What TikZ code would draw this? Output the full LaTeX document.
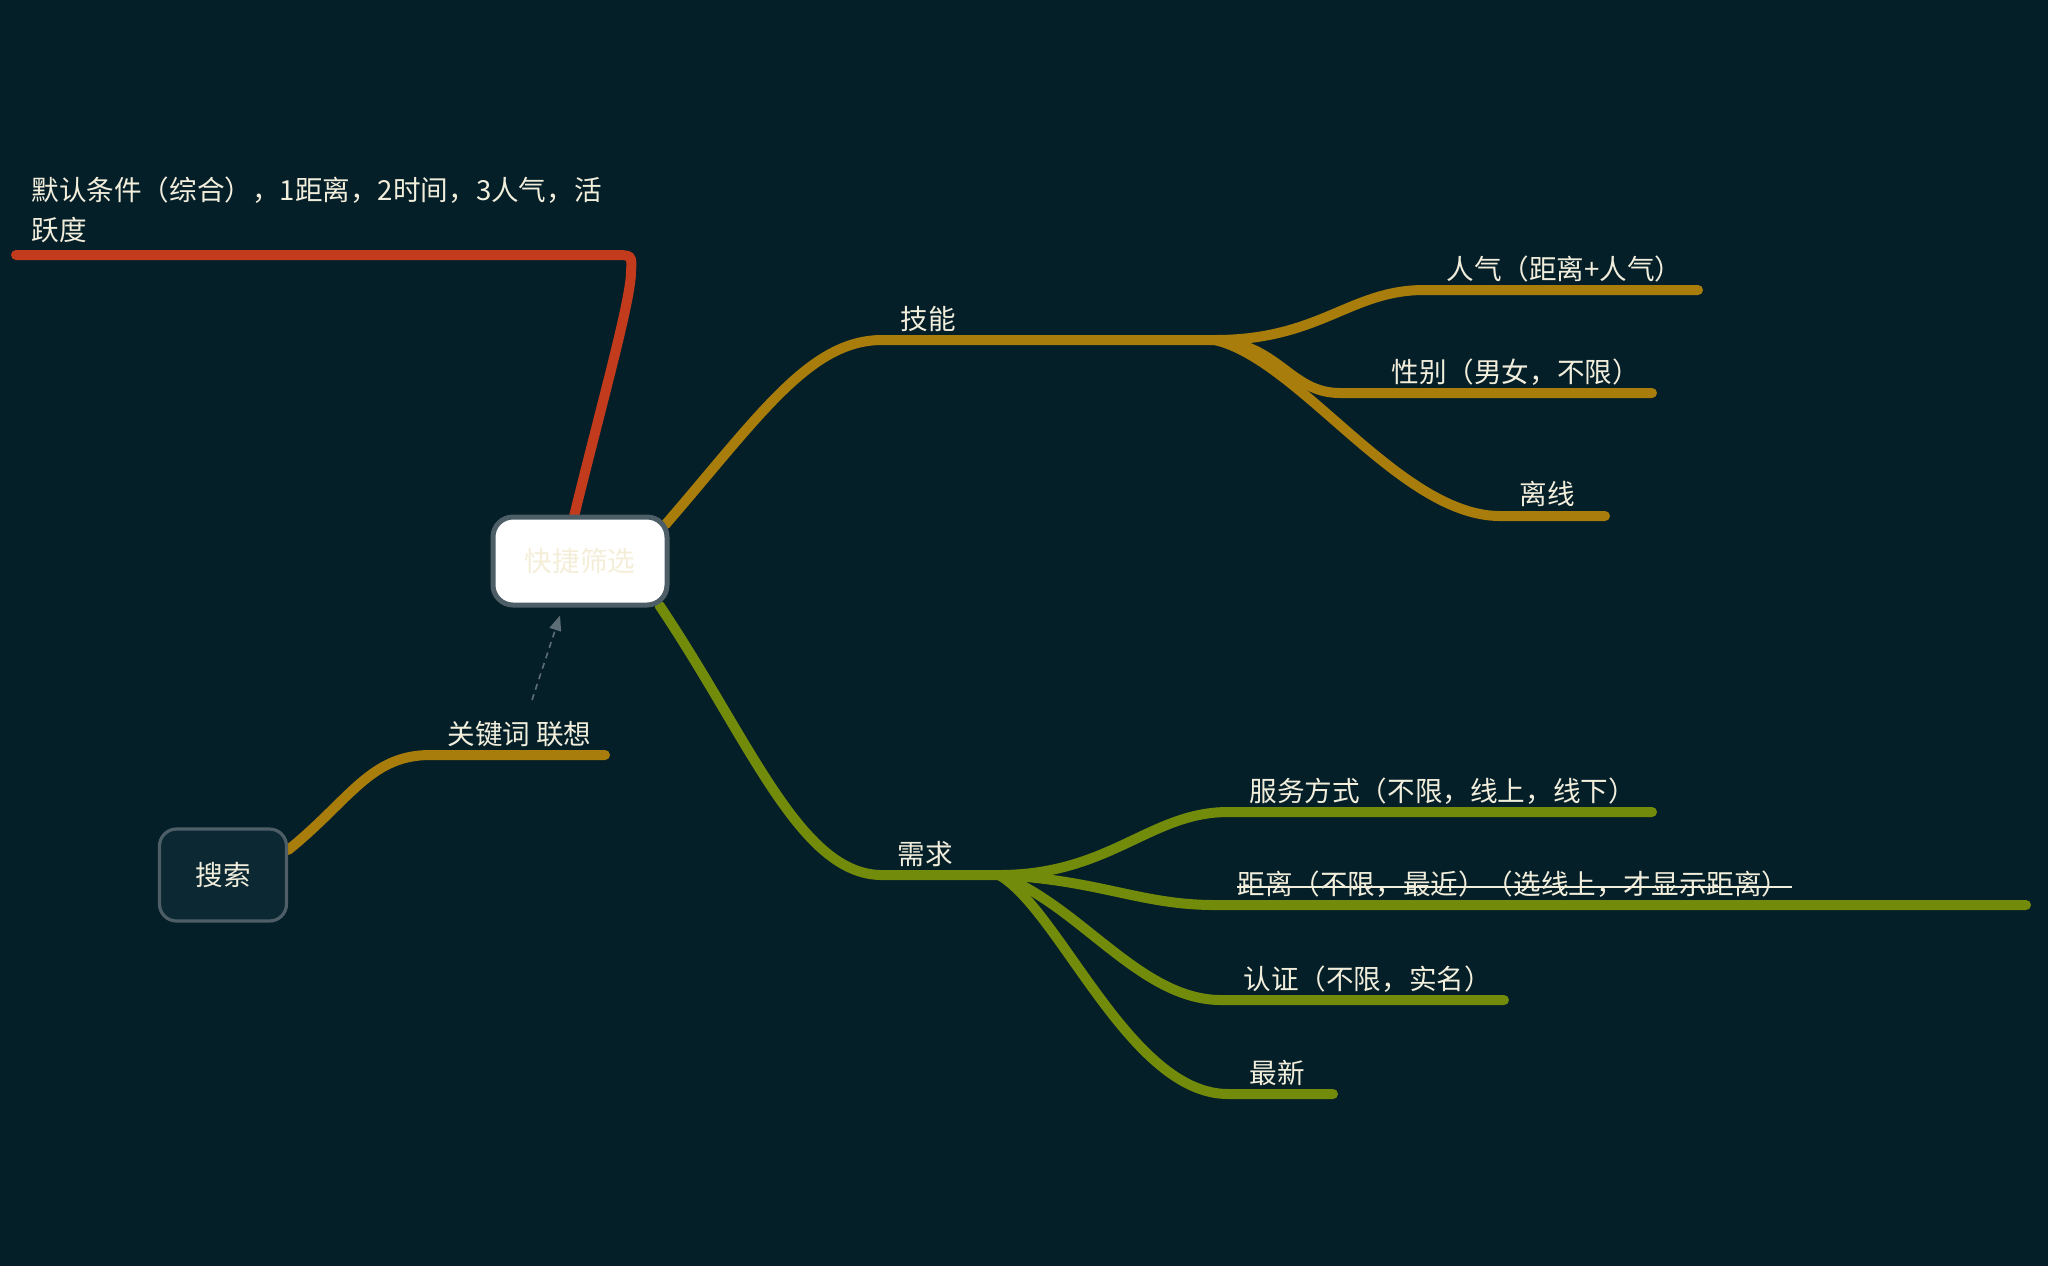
\documentclass[tikz,border=0pt]{standalone}
\usepackage{fontspec}
\setmainfont{Noto Sans CJK SC}
\usetikzlibrary{calc,arrows.meta}

\definecolor{bgc}{HTML}{051F29}
\definecolor{txt}{HTML}{F2EEDC}
\definecolor{gold}{HTML}{A87D0B}
\definecolor{olive}{HTML}{738B0B}
\definecolor{rust}{HTML}{C23B1C}
\definecolor{rim}{HTML}{4D5E67}
\definecolor{boxfill}{HTML}{0B2833}
\definecolor{faint}{HTML}{F4EED8}
\definecolor{assoc}{HTML}{5E6E77}

\pgfdeclarelayer{back}
\pgfdeclarelayer{wires}
\pgfsetlayers{back,wires,main}

\newcommand{\mapfont}{\fontsize{13.8pt}{20pt}\selectfont}

\tikzset{
  lbl/.style={anchor=base west, inner sep=0pt, text=txt, font=\mapfont},
  branch/.style={line width=5pt, line cap=round},
  hubbox/.style={draw=rim, line width=2.5pt, fill=white, rounded corners=10pt,
                 minimum width=87pt, minimum height=44pt, text=faint, font=\mapfont},
  topicbox/.style={draw=rim, line width=1.6pt, fill=boxfill, rounded corners=8.5pt,
                   minimum width=63.5pt, minimum height=46pt, text=txt, font=\mapfont},
  assocline/.style={draw=assoc, line width=0.8pt, dash pattern=on 3pt off 2.5pt,
                    -{Triangle[length=7.5pt,width=6pt]}}
}

\begin{document}
\begin{tikzpicture}[x=0.5pt,y=-0.5pt]
\begin{pgfonlayer}{back}
  \fill[bgc] (0,0) rectangle (2048,1266);
\end{pgfonlayer}
\useasboundingbox (0,0) rectangle (2048,1266);

% topics
\node[hubbox] (hub) at (580,561) {快捷筛选};
\node[topicbox] (search) at (223,875) {搜索};

% labels
\node[lbl, anchor=north west, align=left] (deflt) at (31,176)
  {默认条件（综合），1距离，2时间，3人气，活\\跃度};
\node[lbl] (skill) at (900,329) {技能};
\node[lbl] (need) at (897,864) {需求};
\node[lbl] (pop) at (1446,279) {人气（距离+人气）};
\node[lbl] (sex) at (1391,382) {性别（男女，不限）};
\node[lbl] (off) at (1519,504) {离线};
\node[lbl] (serv) at (1249,801) {服务方式（不限，线上，线下）};
\node[lbl] (dist) at (1237,894) {距离（不限，最近）（选线上，才显示距离）};
\node[lbl] (auth) at (1243,989) {认证（不限，实名）};
\node[lbl] (newest) at (1249,1083) {最新};
\node[lbl] (kw) at (447,744) {关键词 联想};

% branch points and line ends
\coordinate (skB) at (1215,340);
\coordinate (ndB) at (999,875);
\coordinate (popE) at (1698,290);
\coordinate (sexE) at (1652,393);
\coordinate (offE) at (1605,516);
\coordinate (servE) at (1652,812);
\coordinate (distE) at (2026,905);
\coordinate (authE) at (1504,1000);
\coordinate (newE) at (1333,1094);
\coordinate (kwE) at (605,755);
\coordinate (defE) at (16,255);

\begin{pgfonlayer}{wires}
  % default sorting branch
  \draw[branch, rust] ($(hub.north)+(-6,2)$)
    .. controls (600,410) and (631,300) .. (631,272)
    .. controls (632,255) .. (614,255) -- (defE);
  % skill branch
  \draw[branch, gold] ($(hub.north east)+(-4,10)$)
    .. controls (760,415) and (810,340) .. (882,340) -- (skB);
  \draw[branch, gold] (skB) .. controls (1320,340) and (1350,290) .. (1424,290) -- (popE);
  \draw[branch, gold] (skB) .. controls (1280,345) and (1290,393) .. (1340,393) -- (sexE);
  \draw[branch, gold] (skB) .. controls (1300,360) and (1400,516) .. (1500,516) -- (offE);
  % demand branch
  \draw[branch, olive] ($(hub.south east)+(-10,-2)$)
    .. controls (750,740) and (800,875) .. (882,875) -- (ndB);
  \draw[branch, olive] (ndB) .. controls (1110,875) and (1150,812) .. (1228,812) -- (servE);
  \draw[branch, olive] (ndB) .. controls (1100,880) and (1140,905) .. (1215,905) -- (distE);
  \draw[branch, olive] (ndB) .. controls (1080,905) and (1140,1000) .. (1221,1000) -- (authE);
  \draw[branch, olive] (ndB) .. controls (1060,910) and (1130,1094) .. (1228,1094) -- (newE);
  % search branch
  \draw[branch, gold] ($(search.east)+(0,-25)$)
    .. controls (350,800) and (370,755) .. (430,755) -- (kwE);
\end{pgfonlayer}

% strike-through on the distance option
\draw[txt, line width=0.75pt] ($(dist.base west)+(0,-7)$) -- ($(dist.base east)+(2,-7)$);

% association from keyword suggestion to quick filter
\coordinate (kwA) at (532,700);
\draw[assocline] (kwA) -- ($(hub.south)+(-20,8)$);
\end{tikzpicture}
\end{document}
